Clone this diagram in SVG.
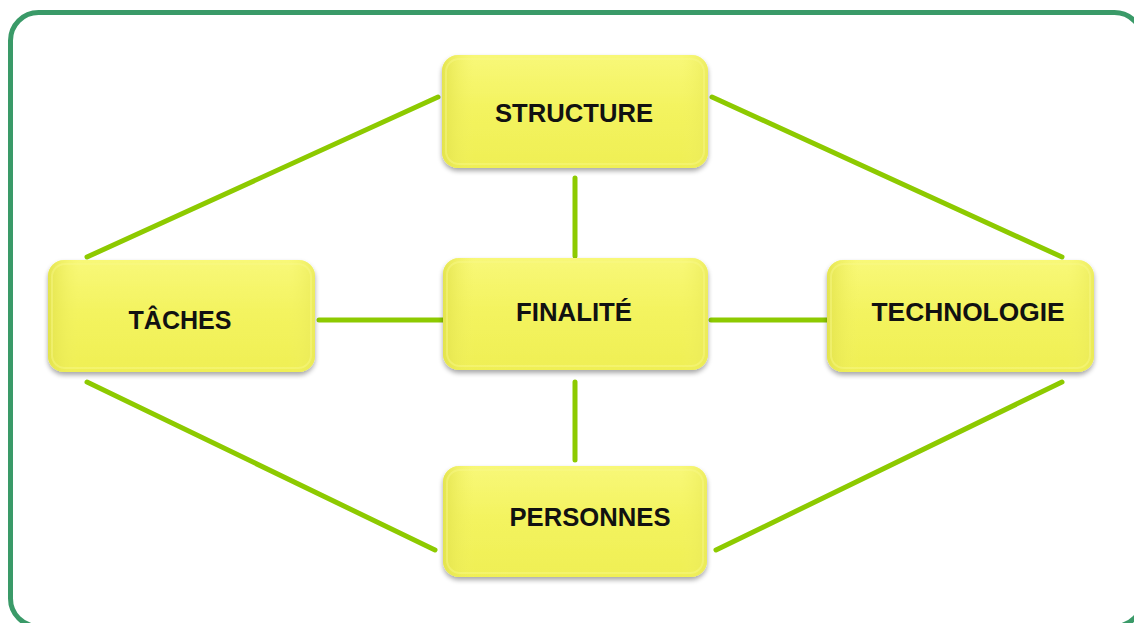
<svg xmlns="http://www.w3.org/2000/svg" width="1134" height="623" viewBox="0 0 1134 623">
<defs>
<linearGradient id="yfill" x1="0" y1="0" x2="0" y2="1">
<stop offset="0" stop-color="#f8f878"/>
<stop offset="0.5" stop-color="#f3f35e"/>
<stop offset="1" stop-color="#efef55"/>
</linearGradient>
<linearGradient id="yside" x1="0" y1="0" x2="1" y2="0">
<stop offset="0" stop-color="#e2e24c" stop-opacity="0.9"/>
<stop offset="0.12" stop-color="#f2f264" stop-opacity="0"/>
<stop offset="0.9" stop-color="#f2f264" stop-opacity="0"/>
<stop offset="1" stop-color="#e8e858" stop-opacity="0.7"/>
</linearGradient>
<filter id="shadow" x="-10%" y="-10%" width="120%" height="130%">
<feGaussianBlur in="SourceAlpha" stdDeviation="2.5"/>
<feOffset dy="3" result="b"/>
<feComponentTransfer><feFuncA type="linear" slope="0.35"/></feComponentTransfer>
<feMerge><feMergeNode/><feMergeNode in="SourceGraphic"/></feMerge>
</filter>
</defs>
<style>
.frame{fill:none;stroke:#3a9a68;stroke-width:5}
.box{fill:url(#yfill);filter:url(#shadow)}
.side{fill:url(#yside)}
.bevel{fill:none;stroke:#f8f88a;stroke-width:2;opacity:0.45}
.lbl{font-family:"Liberation Sans",Arial,sans-serif;font-weight:bold;font-size:25px;fill:#111;text-anchor:middle}
.conn line{stroke:#8dca00;stroke-width:5;stroke-linecap:round}
</style>
<rect class="frame" x="10.5" y="12.5" width="1132" height="614" rx="28"/>
<g class="conn" id="connectors">
<line x1="438" y1="97" x2="87" y2="257"/>
<line x1="712" y1="97" x2="1062" y2="257"/>
<line x1="575" y1="178" x2="575" y2="256"/>
<line x1="319" y1="320" x2="447" y2="320"/>
<line x1="711" y1="320" x2="833" y2="320"/>
<line x1="575" y1="382" x2="575" y2="460"/>
<line x1="87" y1="382" x2="435" y2="550"/>
<line x1="1062" y1="382" x2="716" y2="550"/>
</g>
<g id="structure">
<rect class="box" x="442" y="55" width="266" height="113" rx="16"/>
<rect class="side" x="442" y="55" width="266" height="113" rx="16"/>
<rect class="bevel" x="446" y="59" width="258" height="105" rx="13"/>
<text class="lbl" x="574" y="122" textLength="158" lengthAdjust="spacingAndGlyphs">STRUCTURE</text>
</g>
<g id="taches">
<rect class="box" x="48" y="260" width="267" height="112" rx="16"/>
<rect class="side" x="48" y="260" width="267" height="112" rx="16"/>
<rect class="bevel" x="52" y="264" width="259" height="104" rx="13"/>
<text class="lbl" x="180" y="329" textLength="103" lengthAdjust="spacingAndGlyphs">TÂCHES</text>
</g>
<g id="finalite">
<rect class="box" x="443" y="258" width="265" height="112" rx="16"/>
<rect class="side" x="443" y="258" width="265" height="112" rx="16"/>
<rect class="bevel" x="447" y="262" width="257" height="104" rx="13"/>
<text class="lbl" x="574" y="321" textLength="116" lengthAdjust="spacingAndGlyphs">FINALITÉ</text>
</g>
<g id="technologie">
<rect class="box" x="827" y="260" width="267" height="112" rx="16"/>
<rect class="side" x="827" y="260" width="267" height="112" rx="16"/>
<rect class="bevel" x="831" y="264" width="259" height="104" rx="13"/>
<text class="lbl" x="968" y="321" textLength="193" lengthAdjust="spacingAndGlyphs">TECHNOLOGIE</text>
</g>
<g id="personnes">
<rect class="box" x="443" y="466" width="264" height="111" rx="16"/>
<rect class="side" x="443" y="466" width="264" height="111" rx="16"/>
<rect class="bevel" x="447" y="470" width="256" height="103" rx="13"/>
<text class="lbl" x="590" y="526" textLength="161" lengthAdjust="spacingAndGlyphs">PERSONNES</text>
</g>
</svg>
